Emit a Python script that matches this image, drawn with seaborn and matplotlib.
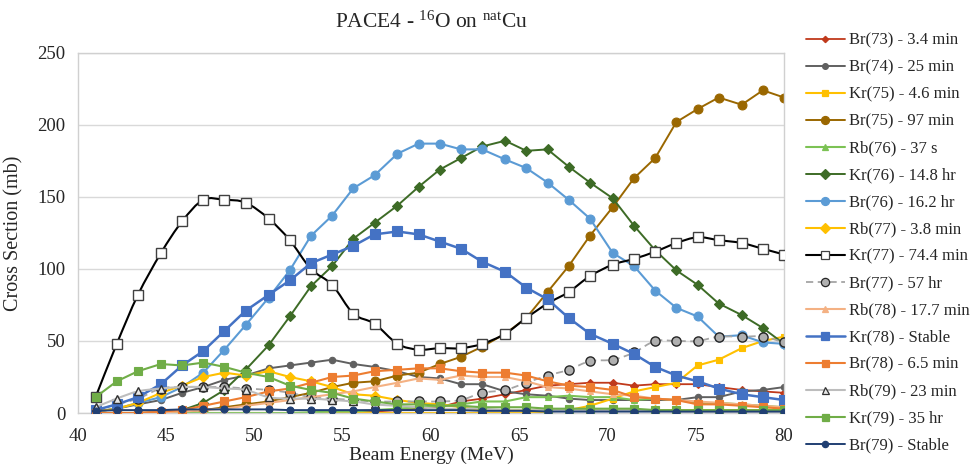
import numpy as np
import pandas as pd
import matplotlib
matplotlib.use("Agg")
import matplotlib.pyplot as plt
from matplotlib.path import Path
from matplotlib.patches import PathPatch
from matplotlib.lines import Line2D
import seaborn as sns

# Beam energies (MeV)
energy = [41.0, 42.2, 43.4, 44.7, 45.9, 47.1, 48.3, 49.5, 50.8, 52.0, 53.2,
          54.4, 55.6, 56.8, 58.1, 59.3, 60.5, 61.7, 62.9, 64.2, 65.4, 66.6,
          67.8, 69.0, 70.3, 71.5, 72.7, 73.9, 75.1, 76.3, 77.6, 78.8, 80.0]

# Cross sections (mb) for each residual nucleus
br73 = [0, 0, 0, 0, 0, 0, 0, 0, 0, 0, 0, 0.5, 1, 1, 2, 3, 4, 8, 10, 13, 16,
        19, 20, 21, 21, 19, 20, 20, 20, 18, 16, 15, 14]
br74 = [1, 3, 6, 9, 14, 18, 23, 26, 31, 33, 35, 37, 34, 32, 29, 25, 24, 20,
        20, 15, 13, 12, 10, 9, 9, 9, 9, 9, 11, 11, 15, 16, 18]
kr75 = [0, 0, 0, 0, 0, 0, 0, 0, 0, 0, 0, 0, 0, 0, 0, 0, 0, 0, 0, 0, 0, 1, 2,
        5, 10, 15, 18, 21, 33, 37, 45, 50, 53]
br75 = [0, 0, 0, 0.5, 1, 2, 4, 6, 8, 11, 14, 18, 21, 22, 26, 28, 34, 39, 46,
        55, 66, 84, 102, 123, 143, 163, 177, 202, 211, 219, 214, 224, 219]
rb76 = [0, 0, 0, 0, 0, 0, 0, 0, 0, 0, 0.5, 1, 1, 2, 3, 4, 5, 6, 8, 8, 11, 11,
        12, 11, 11, 9, 10, 9, 7, 7, 6, 5, 4]
kr76 = [0, 0, 0, 0.5, 2, 7, 16, 30, 47, 67, 88, 102, 121, 132, 144, 157, 169,
        177, 185, 189, 182, 183, 171, 160, 149, 130, 113, 99, 89, 76, 68, 59, 48]
br76 = [1, 3, 7, 11, 18, 28, 44, 61, 80, 99, 123, 137, 156, 165, 180, 187,
        187, 183, 183, 176, 170, 160, 148, 135, 111, 102, 85, 73, 67, 53, 54,
        49, 48]
rb77 = [1, 3, 7, 14, 19, 25, 28, 26, 29, 25, 22, 18, 13, 12, 9, 7, 6, 4, 2, 2,
        2, 2, 2, 3, 2, 2, 2, 2, 2, 2, 2, 2, 2]
kr77 = [11, 48, 82, 111, 133, 148, 148, 146, 135, 120, 100, 89, 69, 62, 48,
        44, 45, 45, 48, 55, 66, 76, 84, 95, 103, 107, 112, 118, 122, 120, 118,
        114, 110]
br77 = [2, 6, 10, 17, 18, 18, 18, 17, 16, 14, 11, 10, 9, 8, 8, 8, 8, 9, 14, 16,
        21, 26, 30, 36, 37, 42, 50, 50, 50, 53, 53, 53, 49]
rb78 = [0, 0, 0, 0.5, 1, 2, 3, 5, 7, 9, 11, 13, 15, 18, 21, 24, 23, 26, 25, 25,
        22, 18, 17, 15, 13, 12, 10, 9, 8, 7, 6, 5, 4]
kr78 = [2, 6, 11, 20, 33, 43, 57, 71, 82, 92, 104, 110, 116, 124, 126, 124,
        119, 114, 105, 98, 87, 79, 66, 55, 48, 41, 32, 26, 22, 17, 13, 11, 9]
br78 = [0, 0, 0, 1, 2, 5, 8, 11, 15, 17, 21, 25, 26, 29, 30, 31, 31, 29, 28,
        28, 26, 22, 19, 18, 16, 11, 10, 9, 6, 6, 5, 4, 3]
rb79 = [4, 10, 15, 17, 18, 18, 17, 16, 11, 10, 10, 9, 8, 6, 5, 4, 3, 3, 3, 2,
        2, 2, 2, 2, 2, 2, 2, 1, 1, 1, 1, 1, 1]
kr79 = [11, 22, 29, 34, 33, 35, 32, 28, 25, 19, 16, 14, 10, 8, 6, 6, 5, 5, 4,
        4, 4, 3, 3, 3, 3, 3, 2, 2, 2, 2, 2, 2, 2]
br79 = [1.5, 2, 2, 2, 2.5, 2.5, 2.5, 2.5, 2.5, 2, 2, 2, 2, 2, 2, 2, 2, 2, 1.5,
        1.5, 1.5, 1, 1, 1, 1, 1, 1, 1, 1, 1, 1, 1, 1]

labels = ["Br(73) - 3.4 min", "Br(74) - 25 min", "Kr(75) - 4.6 min",
          "Br(75) - 97 min", "Rb(76) - 37 s", "Kr(76) - 14.8 hr",
          "Br(76) - 16.2 hr", "Rb(77) - 3.8 min", "Kr(77) - 74.4 min",
          "Br(77) - 57 hr", "Rb(78) - 17.7 min", "Kr(78) - Stable",
          "Br(78) - 6.5 min", "Rb(79) - 23 min", "Kr(79) - 35 hr",
          "Br(79) - Stable"]
values = [br73, br74, kr75, br75, rb76, kr76, br76, rb77, kr77, br77, rb78,
          kr78, br78, rb79, kr79, br79]

# Drawing style for each series: color, marker, marker size, face, edge,
# line width, line style, smoothed line
styles = [
    ("#C0391B", "D", 3.6, None, None, 1.3, "-", False),
    ("#606060", "o", 4.6, None, None, 1.4, "-", False),
    ("#FFC000", "s", 5.0, None, None, 1.5, "-", False),
    ("#9A6700", "o", 6.4, None, None, 1.4, "-", False),
    ("#7CC254", "^", 5.0, None, None, 1.5, "-", False),
    ("#3D6B26", "D", 5.2, None, None, 1.4, "-", False),
    ("#5B9BD5", "o", 6.4, None, None, 1.5, "-", False),
    ("#FFC000", "D", 5.4, None, None, 1.5, "-", False),
    ("#000000", "s", 6.8, "white", "#404040", 1.5, "-", True),
    ("#A5A5A5", "o", 6.6, "#B0B0B0", "#262626", 1.3, (0, (4, 2.5)), True),
    ("#F4B183", "^", 5.0, None, None, 1.5, "-", False),
    ("#4472C4", "s", 7.0, None, None, 1.8, "-", False),
    ("#ED7D31", "s", 5.6, None, None, 1.5, "-", False),
    ("#BDBDBD", "^", 5.6, "#E8E8E8", "#303030", 1.5, "-", True),
    ("#70AD47", "s", 5.6, None, None, 1.5, "-", False),
    ("#203F73", "o", 5.0, None, None, 1.4, "-", False),
]

sns.set_theme(style="white")
serif = "Liberation Serif"
plt.rcParams["font.family"] = [serif, "DejaVu Serif"]
plt.rcParams["mathtext.fontset"] = "custom"
plt.rcParams["mathtext.rm"] = serif
plt.rcParams["mathtext.it"] = serif + ":italic"

fig = plt.figure(figsize=(9.74, 4.72), dpi=100)
ax = fig.add_axes([0.080, 0.125, 0.725, 0.763])


def smooth_path(xs, ys):
    pts = np.column_stack([xs, ys]).astype(float)
    n = len(pts)
    verts = [tuple(pts[0])]
    codes = [Path.MOVETO]
    for i in range(n - 1):
        p0 = pts[max(i - 1, 0)]
        p1 = pts[i]
        p2 = pts[i + 1]
        p3 = pts[min(i + 2, n - 1)]
        c1 = p1 + (p2 - p0) / 6.0
        c2 = p2 - (p3 - p1) / 6.0
        verts += [tuple(c1), tuple(c2), tuple(p2)]
        codes += [Path.CURVE4] * 3
    return Path(verts, codes)


handles = []
for k, (lab, vals, st) in enumerate(zip(labels, values, styles)):
    color, marker, ms, mfc, mec, lw, ls, smooth = st
    mfc = color if mfc is None else mfc
    mec = color if mec is None else mec
    df = pd.DataFrame({"energy": energy, "xs": vals})
    z = 2 + k * 0.1
    if smooth:
        patch = PathPatch(smooth_path(df["energy"], df["xs"]), fill=False,
                          edgecolor=color, lw=lw, linestyle=ls, zorder=z)
        ax.add_patch(patch)
        sns.lineplot(data=df, x="energy", y="xs", ax=ax, estimator=None,
                     linewidth=0, marker=marker, markersize=ms,
                     markerfacecolor=mfc, markeredgecolor=mec,
                     markeredgewidth=1.0, zorder=z + 0.05)
    else:
        sns.lineplot(data=df, x="energy", y="xs", ax=ax, estimator=None,
                     color=color, linewidth=lw, linestyle=ls, marker=marker,
                     markersize=ms, markerfacecolor=mfc, markeredgecolor=mec,
                     markeredgewidth=0.8, zorder=z)
    handles.append(Line2D([], [], color=color, lw=lw, linestyle=ls,
                          marker=marker, markersize=ms * 0.9,
                          markerfacecolor=mfc, markeredgecolor=mec,
                          markeredgewidth=0.9, label=lab))

ax.set_xlim(40, 80)
ax.set_ylim(0, 250)
ax.set_xticks(range(40, 81, 5))
ax.set_yticks(range(0, 251, 50))
ax.grid(axis="y", color="#D9D9D9", linewidth=1.0)
ax.grid(axis="x", visible=False)
for side in ["left", "right", "top", "bottom"]:
    ax.spines[side].set_color("#D0D0D0")
    ax.spines[side].set_linewidth(1.0)
ax.tick_params(axis="x", length=0, labelsize=13.5, colors="#262626", pad=11)
ax.tick_params(axis="y", length=0, labelsize=13.5, colors="#262626", pad=9)
ax.set_xlabel("Beam Energy (MeV)", fontsize=14, color="#262626", labelpad=1)
ax.set_ylabel("Cross Section (mb)", fontsize=14.5, color="#262626",
              labelpad=10)
ax.set_title(r"PACE4 - $^{16}$O on $^{\mathrm{nat}}$Cu", fontsize=15.5,
             color="#262626", pad=18)

ax.legend(handles=handles, loc="upper left", bbox_to_anchor=(1.022, 1.075),
          frameon=False, fontsize=12, handlelength=2.3, handletextpad=0.25,
          labelspacing=0.66, borderaxespad=0)

fig.savefig("out.png", dpi=100)
